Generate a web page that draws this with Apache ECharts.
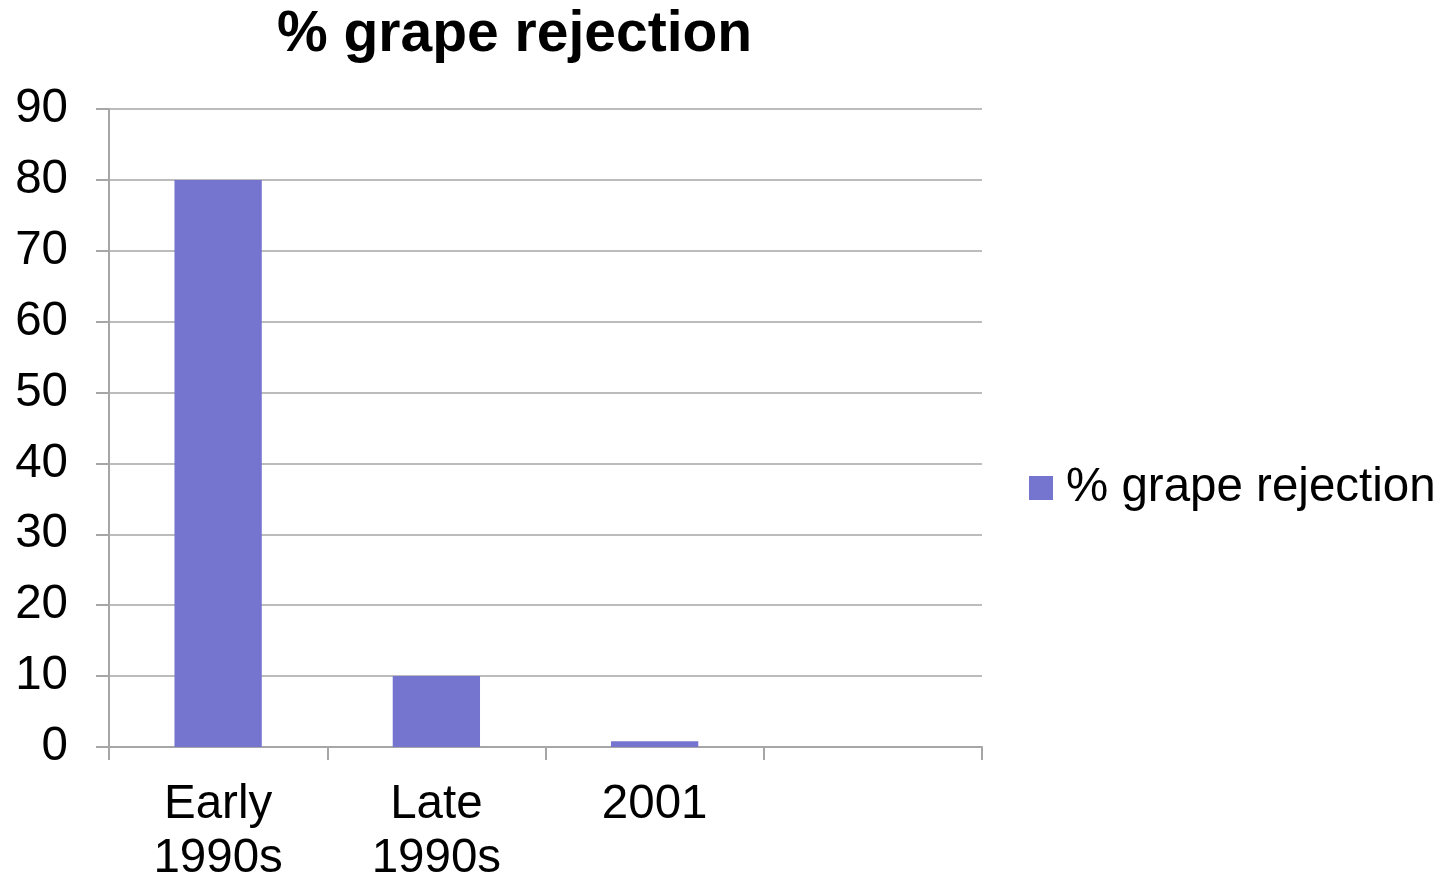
<!DOCTYPE html>
<html>
<head>
<meta charset="utf-8">
<script src="https://cdn.jsdelivr.net/npm/echarts@6/dist/echarts.min.js"></script>
<style>
  html, body { margin: 0; padding: 0; background: #fff; }
  #chart { width: 1452px; height: 883px; }
</style>
</head>
<body>
<div id="chart"></div>
<script>
const categories = ['Early\n1990s', 'Late\n1990s', '2001', ''];
const rejection = [80, 10, 0.8, null];
const yTicks = { min: 0, max: 90, interval: 10 };

const font = '"Liberation Sans", Arial, sans-serif';
const myChart = echarts.init(document.getElementById('chart'));

const option = {
  animation: false,
  title: {
    text: '% grape rejection',
    left: 277,
    top: 7,
    padding: 0,
    textStyle: { fontFamily: font, fontSize: 57, fontWeight: 'bold', color: '#000' }
  },
  legend: {
    orient: 'vertical',
    left: 1029,
    top: 464,
    padding: 0,
    itemWidth: 24,
    itemHeight: 24,
    icon: 'rect',
    textStyle: { fontFamily: font, fontSize: 47.5, color: '#000', padding: [0, 0, 0, 8] },
    data: ['% grape rejection']
  },
  grid: { left: 109, right: 470, top: 109, bottom: 136, outerBoundsMode: 'none' },
  xAxis: {
    type: 'category',
    data: categories,
    axisLine: { lineStyle: { color: '#a6a6a6', width: 2 } },
    axisTick: { show: true, length: 13, lineStyle: { color: '#a6a6a6', width: 2 } },
    axisLabel: {
      fontFamily: font, fontSize: 47.5, color: '#000', margin: 31, lineHeight: 54,
      interval: 0
    }
  },
  yAxis: {
    type: 'value',
    min: yTicks.min,
    max: yTicks.max,
    interval: yTicks.interval,
    axisLine: { show: true, lineStyle: { color: '#a6a6a6', width: 2 } },
    axisTick: { show: true, length: 13, lineStyle: { color: '#a6a6a6', width: 2 } },
    splitLine: { lineStyle: { color: '#a6a6a6', width: 1.5 } },
    axisLabel: { fontFamily: font, fontSize: 47.5, color: '#000', margin: 41, padding: [12, 0, 0, 0] }
  },
  series: [
    {
      name: '% grape rejection',
      type: 'bar',
      data: rejection,
      barWidth: '40%',
      itemStyle: { color: '#7574cf' }
    }
  ]
};

option && myChart.setOption(option);
</script>
</body>
</html>
